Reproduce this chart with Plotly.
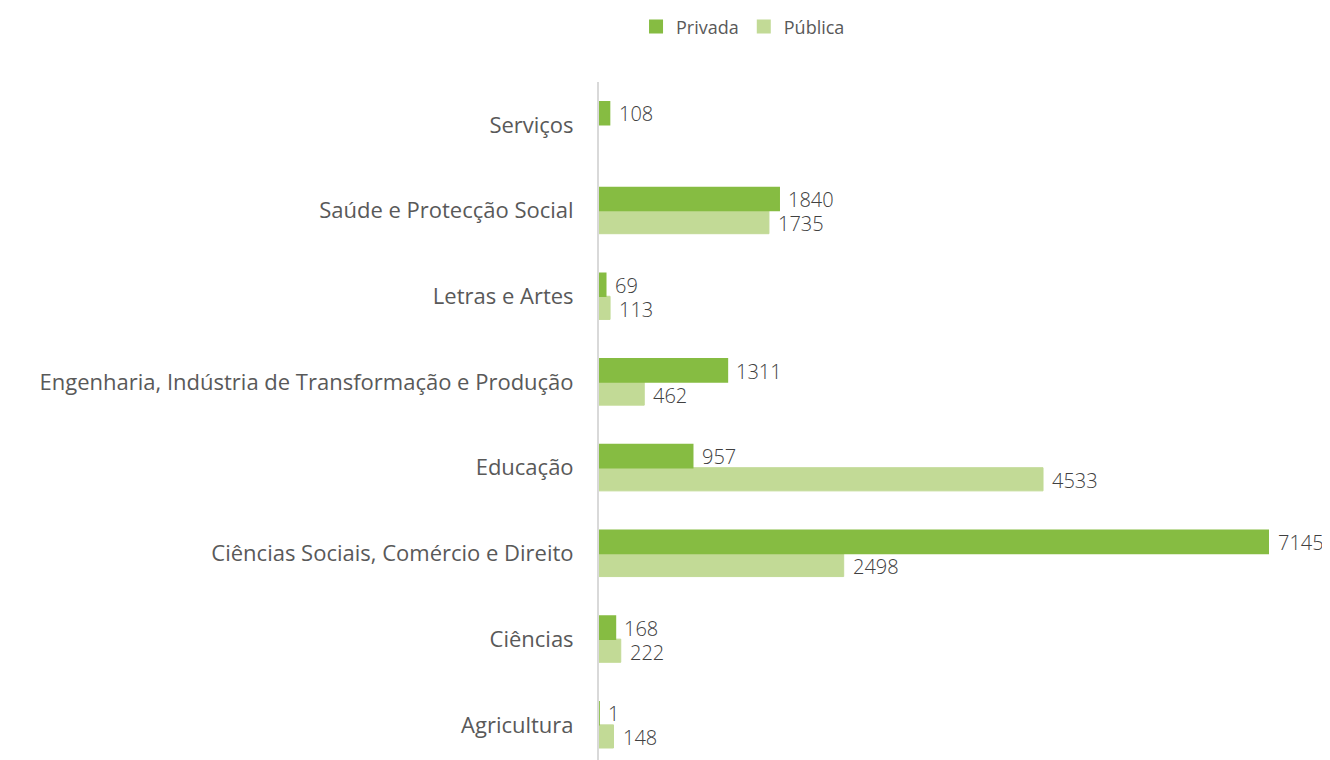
import plotly.graph_objects as go

categories = ["Agricultura", "Ciências", "Ciências Sociais, Comércio e Direito", "Educação",
              "Engenharia, Indústria de Transformação e Produção", "Letras e Artes",
              "Saúde e Protecção Social", "Serviços"]
privada = [1, 168, 7145, 957, 1311, 69, 1840, 108]
publica = [148, 222, 2498, 4533, 462, 113, 1735, None]

C_PRIV = "#86BC42"
C_PUB = "#C2DA96"
XMAX = 6840
FONT = "Open Sans"

fig = go.Figure()
fig.add_trace(go.Bar(y=categories, x=publica, orientation="h", name="Pública",
                     marker=dict(color=C_PUB, line=dict(color=C_PUB, width=1)), showlegend=False))
fig.add_trace(go.Bar(y=categories, x=privada, orientation="h", name="Privada",
                     marker=dict(color=C_PRIV, line=dict(color=C_PRIV, width=1.5)), showlegend=False))
# legend entries (square swatches)
fig.add_trace(go.Scatter(x=[None], y=[None], mode="markers", name="Privada", legendrank=1,
                         marker=dict(symbol="square", size=14, color=C_PRIV)))
fig.add_trace(go.Scatter(x=[None], y=[None], mode="markers", name="Pública", legendrank=2,
                         marker=dict(symbol="square", size=14, color=C_PUB)))

lab_font = dict(family=FONT, size=20, color="#404040", weight=300)
ann = []
for cat, v in zip(categories, privada):
    if v is not None:
        ann.append(dict(x=min(v, XMAX), y=cat, text=str(v), xanchor="left", showarrow=False,
                        xshift=7, yshift=11, font=lab_font))
for cat, v in zip(categories, publica):
    if v is not None:
        ann.append(dict(x=min(v, XMAX), y=cat, text=str(v), xanchor="left", showarrow=False,
                        xshift=7, yshift=-13, font=lab_font))

fig.update_layout(
    width=1322, height=752,
    margin=dict(l=591, r=61, t=74, b=0),
    plot_bgcolor="white", paper_bgcolor="white",
    barmode="group", bargap=0.46, bargroupgap=0,
    annotations=ann,
    font=dict(family=FONT, color="#595959"),
    legend=dict(orientation="h", xref="container", yref="container",
                x=0.556, xanchor="center", y=0.975, yanchor="middle",
                itemwidth=30, tracegroupgap=0,
                font=dict(family=FONT, size=18, color="#595959")),
    xaxis=dict(range=[0, XMAX], visible=False, showgrid=False),
    yaxis=dict(range=[-0.41, 7.5], showline=True, linecolor="#D9D9D9", linewidth=2,
               ticks="", ticklabelstandoff=19,
               tickfont=dict(family=FONT, size=22, color="#595959"),
               showgrid=False),
)
fig.write_html("out.html")
